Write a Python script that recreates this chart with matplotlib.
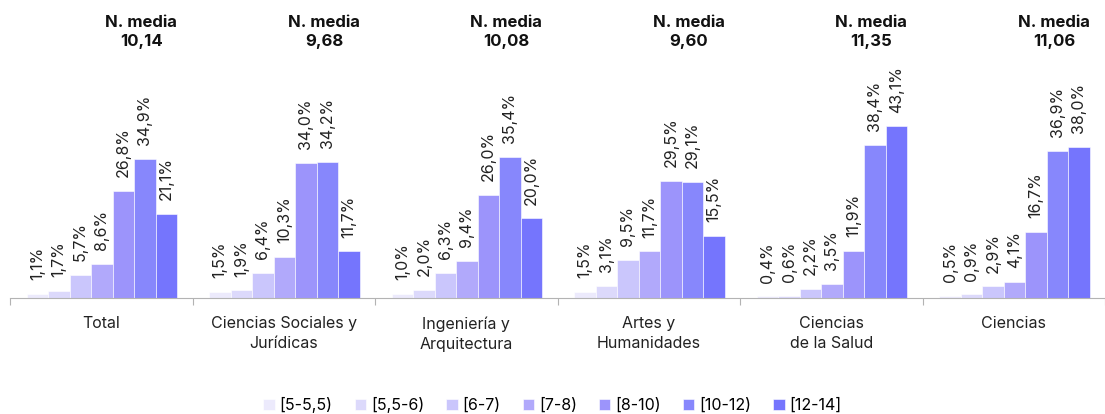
import numpy as np
import matplotlib
matplotlib.use("Agg")
import matplotlib.pyplot as plt

plt.rcParams['font.family'] = ['Inter', 'DejaVu Sans']

categories = ['Total', 'Ciencias Sociales y\nJurídicas', 'Ingeniería y\nArquitectura',
              'Artes y\nHumanidades', 'Ciencias\nde la Salud', 'Ciencias']
ranges = ['[5-5,5)', '[5,5-6)', '[6-7)', '[7-8)', '[8-10)', '[10-12)', '[12-14]']
medias = ['10,14', '9,68', '10,08', '9,60', '11,35', '11,06']

total = [1.1, 1.7, 5.7, 8.6, 26.8, 34.9, 21.1]
sociales = [1.5, 1.9, 6.4, 10.3, 34.0, 34.2, 11.7]
ingenieria = [1.0, 2.0, 6.3, 9.4, 26.0, 35.4, 20.0]
artes = [1.5, 3.1, 9.5, 11.7, 29.5, 29.1, 15.5]
salud = [0.4, 0.6, 2.2, 3.5, 11.9, 38.4, 43.1]
ciencias = [0.5, 0.9, 2.9, 4.1, 16.7, 36.9, 38.0]

values = np.array([total, sociales, ingenieria, artes, salud, ciencias])

colors = ['#ECEAFC', '#DCD9FB', '#CAC6FC', '#B1A9FB', '#9C94FB', '#8787FC', '#7575FD']

fig = plt.figure(figsize=(11.05, 4.1401), dpi=100)
ax = fig.add_axes([10 / 1105, 116 / 414, 1 - 10 / 1105, 298 / 414])

w = 0.1177
x0 = 0.092
for k in range(len(ranges)):
    xs = np.arange(len(categories)) + x0 + k * w + w / 2
    ax.bar(xs, values[:, k], width=w, color=colors[k], label=ranges[k],
           edgecolor='white', linewidth=0.4)
    for xi, v in zip(xs, values[:, k]):
        ax.annotate(f'{v:.1f}%'.replace('.', ','), (xi, v), xytext=(0, 10),
                    textcoords='offset points', rotation=90, ha='center', va='bottom',
                    fontsize=11.5, color='#222222')

for i, m in enumerate(medias):
    ax.text(i + 0.5 + 0.22, 66.8, f'N. media\n{m}', ha='center', va='center',
            fontsize=12, fontweight='bold', linespacing=1.3, color='#111111')

ax.set_xlim(0, 1095 / 184.5)
ax.set_ylim(0, 298 / 3.98)

for s in ['top', 'right', 'left']:
    ax.spines[s].set_visible(False)
ax.spines['bottom'].set_color('#b3b3b3')
ax.set_yticks([])
ax.set_xticks(np.arange(len(categories) + 1))
ax.set_xticklabels([])
ax.set_xticks(np.arange(len(categories)) + 0.5, minor=True)
ax.set_xticklabels(categories, minor=True, fontsize=11.5, linespacing=1.45, color='#222222')
ax.tick_params(axis='x', which='major', length=5, color='#b3b3b3')
ax.tick_params(axis='x', which='minor', length=0, pad=13)

fig.legend(loc='center', bbox_to_anchor=(0.5, 1 - 405 / 414), ncol=7, frameon=False,
           fontsize=11.5, handlelength=0.7, handleheight=0.7, handletextpad=0.3,
           columnspacing=1.4, borderpad=0)

fig.savefig('out.png', dpi=100)
